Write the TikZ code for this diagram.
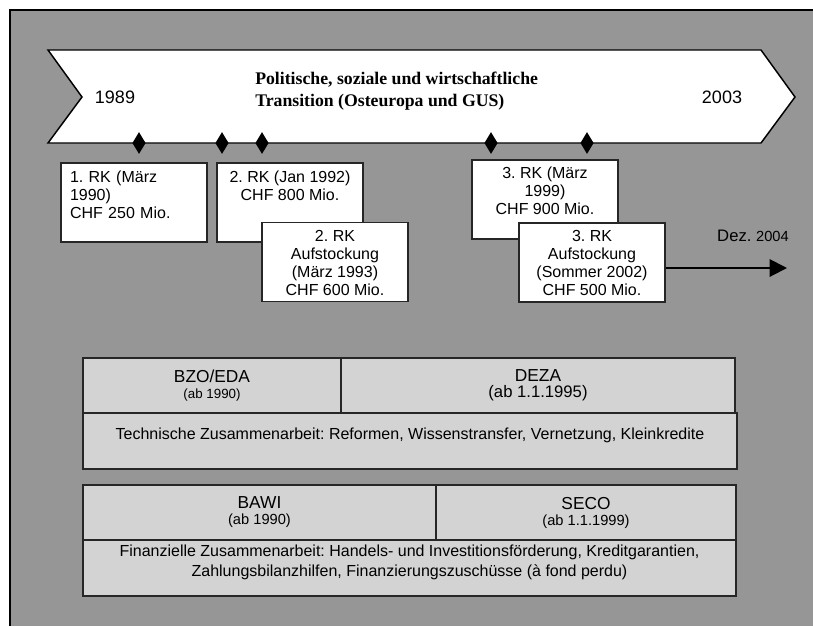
\documentclass[tikz,border=0pt]{standalone}
\usepackage{fontspec}
\setmainfont{Liberation Sans}
\newfontfamily\titlefont{Liberation Serif}
\usetikzlibrary{arrows.meta,shapes.geometric,positioning}
\definecolor{panelgray}{RGB}{150,150,150}
\definecolor{orggray}{RGB}{211,211,211}
\frenchspacing
\tikzset{
    % year labels at the ends of the band
    year/.style={font=\fontsize{13.5}{16}\selectfont, inner sep=0pt},
    bandtitle/.style={font=\titlefont\bfseries\fontsize{13.3}{16.5}\selectfont,
                      align=left, inner sep=0pt},
    % milestone marks on the band
    milestone/.style={diamond, fill=black, inner sep=0pt,
                      minimum width=10pt, minimum height=16.5pt},
    % credit boxes (Rahmenkredite)
    rkbox/.style={draw=black!85, fill=white, line width=0.8pt,
                  minimum width=109.5pt, minimum height=59.25pt, inner sep=0pt},
    rktext/.style={font=\fontsize{12}{13.5}\selectfont, align=center, inner sep=0pt},
    % organisation boxes
    orgbox/.style={draw=black!85, fill=orggray, line width=0.8pt,
                   minimum height=41.25pt, inner sep=0pt, align=center},
    orgtext/.style={font=\fontsize{12}{15}\selectfont, align=center, inner sep=0pt},
    dezarrow/.style={-{Triangle[length=13pt,width=13pt]}, line width=1.5pt},
}
\begin{document}
\begin{tikzpicture}[x=0.75pt,y=-0.75pt]
  \useasboundingbox (0,0) rectangle (813,626);
  % panel
  \fill[white] (0,0) rectangle (813,626);
  \fill[panelgray] (10,10) rectangle (813,626);
  \draw[line width=0.8pt] (10,626) -- (10,10) -- (813,10);

  % the transition band
  \draw[fill=white, line width=1.1pt]
     (48,50) -- (761,50) -- (795,97) -- (761,143) -- (48,143) -- (82,97) -- cycle;
  \node[year] (y1989) at (115,97) {1989};
  \node[year] (y2003) at (722,97) {2003};
  \node[bandtitle, anchor=west] (title) at (255,91)
     {Politische, soziale und wirtschaftliche\\Transition (Osteuropa und GUS)};

  % milestones
  \foreach \x/\n in {139/1,222/2,262/3,491/4,587/5}
    \node[milestone] (ms\n) at (\x,143) {};

  % credit boxes
  \node[rkbox] (rk1) at (134,202.5) {};
  \node[rktext, align=left, text width=96pt, below=6pt of rk1.north] (rk1t)
     {1. RK (März\\1990)\\CHF 250 Mio.};
  \node[rkbox] (rk2) at (290,202.5) {};
  \node[rktext, below=6pt of rk2.north] (rk2t) {2. RK (Jan 1992)\\CHF 800 Mio.};
  \node[rkbox] (rk2b) at (335,262) {};
  \node[rktext, below=6pt of rk2b.north] (rk2bt)
     {2. RK\\Aufstockung\\(März 1993)\\CHF 600 Mio.};
  \node[rkbox] (rk3) at (545,199.5) {};
  \node[rktext, below=5pt of rk3.north] (rk3t) {3. RK (März\\1999)\\CHF 900 Mio.};
  \node[rkbox] (rk3b) at (592,262.5) {};
  \node[rktext, below=6pt of rk3b.north] (rk3bt)
     {3. RK\\Aufstockung\\(Sommer 2002)\\CHF 500 Mio.};

  % open end
  \coordinate (dez) at (787,268);
  \draw[dezarrow] (rk3b.east |- dez) -- (dez);
  \node[rktext, anchor=south east, above left=19.5pt and -1.5pt of dez] (dezt)
     {\fontsize{12.5}{14}\selectfont Dez. {\fontsize{11}{12}\selectfont 2004}};

  % technical cooperation
  \node[orgbox, minimum width=193.5pt] (bzo) at (212,385.5)
     {\fontsize{13}{14.25}\selectfont BZO/EDA\\{\fontsize{10}{12}\selectfont (ab 1990)}};
  \node[orgbox, minimum width=295.5pt] (deza) at (538,385.5)
     {\fontsize{13}{14.25}\selectfont DEZA\\{\fontsize{12.5}{14}\selectfont (ab 1.1.1995)}};
  \node[orgbox, minimum width=490.5pt, minimum height=42pt] (tza) at (410,441) {};
  \node[orgtext, below=11pt of tza.north] (tzat)
     {Technische Zusammenarbeit: Reformen, Wissenstransfer, Vernetzung, Kleinkredite};

  % financial cooperation
  \node[orgbox, minimum width=264.75pt] (bawi) at (259.5,512.5)
     {\fontsize{13}{16.5}\selectfont BAWI\\{\fontsize{11}{13}\selectfont (ab 1990)}};
  \node[orgbox, minimum width=225pt] (seco) at (586,512.5)
     {\fontsize{13}{16.5}\selectfont SECO\\{\fontsize{11}{13}\selectfont (ab 1.1.1999)}};
  \node[orgbox, minimum width=489.75pt, minimum height=42pt] (fza) at (409.5,568) {};
  \node[orgtext, below=4pt of fza.north] (fzat)
     {Finanzielle Zusammenarbeit: Handels- und Investitionsförderung, Kreditgarantien,\\
      Zahlungsbilanzhilfen, Finanzierungszuschüsse (à fond perdu)};
\end{tikzpicture}
\end{document}
